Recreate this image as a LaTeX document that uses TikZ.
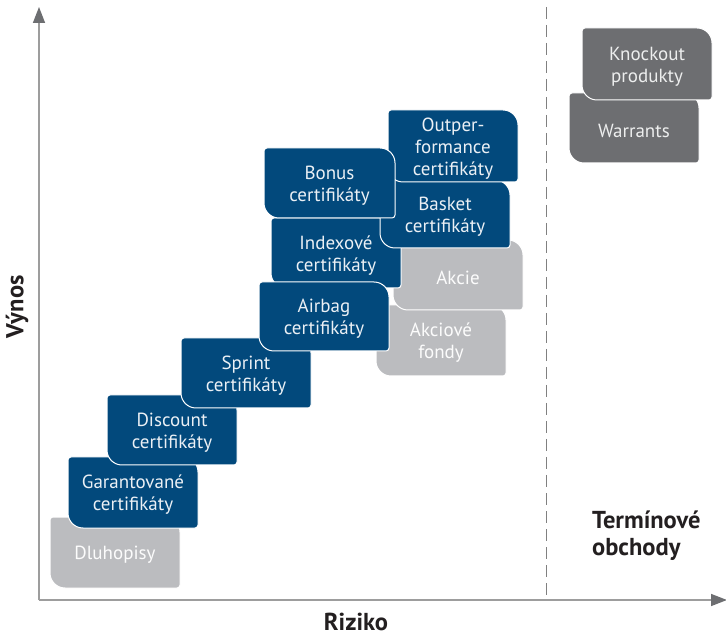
\documentclass[tikz,border=0pt]{standalone}
\usepackage{fontspec}
\setmainfont{PT Sans}
\usetikzlibrary{arrows.meta}
\definecolor{cblue}{HTML}{02497C}
\definecolor{clight}{HTML}{BBBCBF}
\definecolor{cdark}{HTML}{6D6E71}
\definecolor{axshaft}{HTML}{9D9D9D}
\definecolor{axhead}{HTML}{6D6E71}
\definecolor{lbltext}{HTML}{231F20}
\tikzset{
  boxtext/.style={font=\fontsize{19}{22}\selectfont, align=center, inner sep=0pt},
  lbl/.style={font=\fontsize{24.5}{27}\selectfont\bfseries, text=lbltext, inner sep=0pt},
  axis/.style={draw=axshaft, line width=1.5pt, -{Triangle[width=12pt,length=16pt,color=axhead]}},
}
% name, left, top, width, height, fill, text colour, text
\newcommand\pbox[8]{%
  \begin{scope}[shift={(#2,{638-#3-#5})}]
    \path[draw=white, line width=1pt, fill=#6]
      (0,15) -- (0,#5-3) arc[start angle=180,end angle=90,radius=3]
      -- (#4-15,#5) arc[start angle=90,end angle=0,radius=15]
      -- (#4,3) arc[start angle=0,end angle=-90,radius=3]
      -- (15,0) arc[start angle=270,end angle=180,radius=15] -- cycle;
    \node[boxtext, text=#7] (#1) at (#4/2,#5/2-2.5) {#8};
  \end{scope}}
\begin{document}
\begin{tikzpicture}[x=1pt,y=1pt]
\useasboundingbox (0,0) rectangle (726,638);
\coordinate (O) at (39,38);
\coordinate (ytip) at (39,631);
\coordinate (xtip) at (727,38);
\coordinate (dtop) at (546,631);
\coordinate (dbot) at (546,38);
\draw[draw=gray, line width=1pt, dash pattern=on 12pt off 6pt] (dtop) -- (dbot);
\draw[axis] (O) -- (ytip);
\draw[axis] (O) -- (xtip);

\pbox{dluh}{50}{517}{130}{71}{clight}{white!95!clight}{Dluhopisy}
\pbox{gar}{68}{457}{130}{71}{cblue}{white!92!cblue}{Garantované\\certifikáty}
\pbox{disc}{107}{395}{130}{70}{cblue}{white!92!cblue}{Discount\\certifikáty}
\pbox{sprint}{181}{338}{130}{70}{cblue}{white!92!cblue}{Sprint\\certifikáty}
\pbox{fondy}{376}{305}{130}{71}{clight}{white!95!clight}{Akciové\\fondy}
\pbox{akcie}{393}{240}{130}{70}{clight}{white!95!clight}{Akcie}
\pbox{index}{271}{218}{130}{70}{cblue}{white!92!cblue}{Indexové\\certifikáty}
\pbox{airbag}{259}{282}{130}{69}{cblue}{white!92!cblue}{Airbag\\certifikáty}
\pbox{basket}{380}{180}{130}{68}{cblue}{white!92!cblue}{Basket\\certifikáty}
\pbox{outp}{388}{110}{130}{72}{cblue}{white!92!cblue}{Outper-\\formance\\certifikáty}
\pbox{bonus}{264}{148}{131}{70}{cblue}{white!92!cblue}{Bonus\\certifikáty}
\pbox{warr}{569}{93}{130}{70}{cdark}{white!88!cdark}{Warrants}
\pbox{knock}{582}{28}{130}{72}{cdark}{white!88!cdark}{Knockout\\produkty}

\node[lbl, rotate=90] (vynos) at (17,331) {Výnos};
\node[lbl] (riziko) at (356,16) {Riziko};
\node[lbl, align=left, anchor=west] (term) at (592,102) {Termínové\\obchody};
\end{tikzpicture}
\end{document}
